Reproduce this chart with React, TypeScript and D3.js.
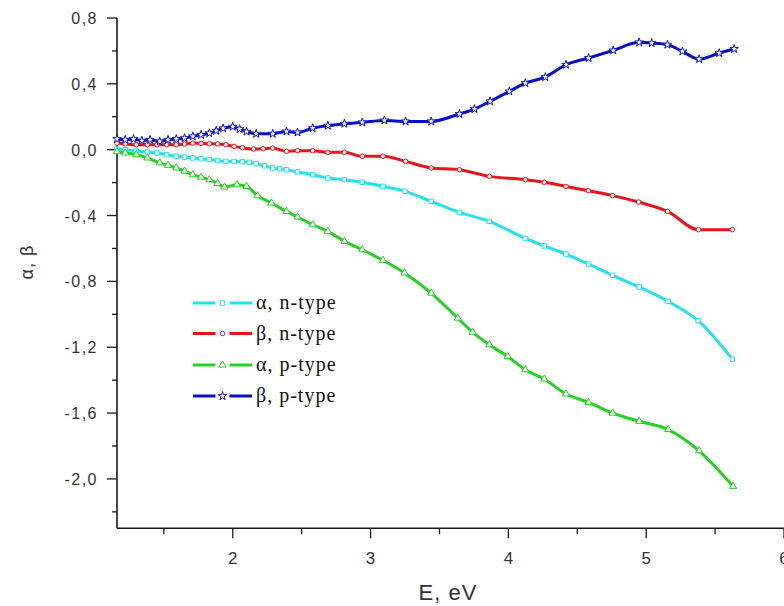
import React from "react";
import * as d3 from "d3";

const W = 784;
const H = 606;

// [E (eV), value]
const alphaN: [number, number][] = [
  [1.16, 0.004], [1.22, 0.0], [1.3, -0.008], [1.38, -0.014], [1.45, -0.02], [1.52, -0.03],
  [1.59, -0.04], [1.65, -0.045], [1.71, -0.05], [1.77, -0.055], [1.83, -0.06], [1.89, -0.066],
  [1.95, -0.071], [2.01, -0.072], [2.07, -0.073], [2.12, -0.077], [2.17, -0.085], [2.23, -0.098],
  [2.29, -0.111], [2.34, -0.116], [2.39, -0.122], [2.47, -0.135], [2.58, -0.152], [2.69, -0.172],
  [2.81, -0.182], [2.94, -0.198], [3.09, -0.223], [3.25, -0.253], [3.44, -0.314], [3.645, -0.381],
  [3.862, -0.435], [4.123, -0.539], [4.26, -0.585], [4.418, -0.634], [4.582, -0.695], [4.756, -0.763],
  [4.949, -0.834], [5.159, -0.921], [5.377, -1.039], [5.625, -1.272],
];

const betaN: [number, number][] = [
  [1.16, 0.04], [1.22, 0.035], [1.3, 0.03], [1.38, 0.03], [1.45, 0.03], [1.52, 0.03],
  [1.59, 0.03], [1.65, 0.035], [1.71, 0.04], [1.77, 0.038], [1.83, 0.036], [1.89, 0.035],
  [1.95, 0.03], [2.01, 0.02], [2.07, 0.012], [2.15, 0.004], [2.22, 0.006], [2.29, 0.01],
  [2.39, -0.01], [2.47, -0.006], [2.58, -0.006], [2.69, -0.016], [2.81, -0.016], [2.94, -0.04],
  [3.09, -0.04], [3.254, -0.071], [3.44, -0.111], [3.645, -0.122], [3.862, -0.162], [4.123, -0.182],
  [4.26, -0.198], [4.418, -0.223], [4.58, -0.249], [4.756, -0.279], [4.945, -0.318], [5.155, -0.375],
  [5.38, -0.486], [5.625, -0.486],
];

const alphaP: [number, number][] = [
  [1.16, -0.012], [1.22, -0.02], [1.3, -0.03], [1.38, -0.05], [1.47, -0.08], [1.53, -0.095],
  [1.59, -0.111], [1.65, -0.13], [1.71, -0.152], [1.77, -0.167], [1.83, -0.182], [1.89, -0.205],
  [1.94, -0.227], [2.03, -0.213], [2.1, -0.223], [2.18, -0.28], [2.28, -0.324], [2.39, -0.375],
  [2.47, -0.409], [2.58, -0.456], [2.69, -0.496], [2.81, -0.557], [2.94, -0.608], [3.09, -0.672],
  [3.246, -0.749], [3.44, -0.871], [3.633, -1.023], [3.74, -1.108], [3.862, -1.185], [3.995, -1.256],
  [4.123, -1.337], [4.26, -1.393], [4.418, -1.484], [4.582, -1.535], [4.756, -1.6], [4.949, -1.65],
  [5.159, -1.7], [5.384, -1.829], [5.63, -2.045],
];

const betaP: [number, number][] = [
  [1.16, 0.065], [1.22, 0.06], [1.28, 0.065], [1.34, 0.055], [1.4, 0.06], [1.47, 0.05],
  [1.53, 0.06], [1.59, 0.065], [1.65, 0.07], [1.71, 0.081], [1.77, 0.09], [1.83, 0.1],
  [1.88, 0.115], [1.93, 0.13], [2.0, 0.14], [2.05, 0.125], [2.1, 0.11], [2.17, 0.097],
  [2.29, 0.097], [2.39, 0.111], [2.47, 0.105], [2.58, 0.131], [2.69, 0.146], [2.81, 0.158],
  [2.94, 0.166], [3.1, 0.178], [3.254, 0.172], [3.44, 0.172], [3.645, 0.217], [3.754, 0.247],
  [3.867, 0.294], [4.007, 0.354], [4.123, 0.405], [4.268, 0.441], [4.418, 0.516], [4.582, 0.557],
  [4.761, 0.603], [4.949, 0.652], [5.04, 0.648], [5.154, 0.638], [5.263, 0.597], [5.384, 0.55],
  [5.53, 0.587], [5.638, 0.612],
];

const seriesNames = ["α, n-type", "β, n-type", "α, p-type", "β, p-type"];
const seriesColors = ["#22e2f0", "#e8141c", "#20d420", "#0a10c8"];
const seriesSymbols = [d3.symbolSquare, d3.symbolCircle, d3.symbolTriangle, d3.symbolStar];
const seriesSymbolSizes = [20, 16, 22, 22];
const seriesData = [alphaN, betaN, alphaP, betaP];

const xMajorTicks = [2, 3, 4, 5, 6];
const xMinorTicks = [1.5, 2.5, 3.5, 4.5, 5.5];
const yMajorTicks = [0.8, 0.4, 0.0, -0.4, -0.8, -1.2, -1.6, -2.0];
const yMinorTicks = [0.6, 0.2, -0.2, -0.6, -1.0, -1.4, -1.8, -2.2];

const fmt = (v: number) => d3.format(".1f")(v).replace(".", ",").replace("−", "-");

export default function App() {
  const x = d3.scaleLinear().domain([1.16, 6]).range([117, 784]);
  const y = d3.scaleLinear().domain([-2.3, 0.8]).range([528.3, 18]);
  const line = d3
    .line<[number, number]>()
    .x((d) => x(d[0]))
    .y((d) => y(d[1]))
    .curve(d3.curveMonotoneX);

  const axisColor = "#1a1a1a";
  const labelColor = "#333";
  const y0 = y(-2.3);
  const x0 = x(1.16);

  const legendX1 = 193;
  const legendX2 = 252;
  const legendRows = [303, 333.5, 365, 396];

  return (
    <div style={{ position: "absolute", left: 0, top: 0 }}>
      <svg width={W} height={H} style={{ display: "block", background: "#fff" }}>
        {/* axes */}
        <line x1={x0} x2={x0} y1={y(0.8)} y2={y0} stroke={axisColor} strokeWidth={1.6} />
        <line x1={x0} x2={784} y1={y0} y2={y0} stroke={axisColor} strokeWidth={1.6} />
        {yMajorTicks.map((t) => (
          <g key={"ym" + t}>
            <line x1={x0 - 10} x2={x0} y1={y(t)} y2={y(t)} stroke={axisColor} strokeWidth={1.3} />
            <text
              x={98}
              y={y(t) + 6}
              textAnchor="end"
              fontFamily="Liberation Sans, Arial, sans-serif"
              fontSize={16}
              letterSpacing={1.5}
              fill={labelColor}
            >
              {fmt(t)}
            </text>
          </g>
        ))}
        {yMinorTicks.map((t) => (
          <line key={"yn" + t} x1={x0 - 5} x2={x0} y1={y(t)} y2={y(t)} stroke={axisColor} strokeWidth={1.3} />
        ))}
        {xMajorTicks.map((t) => (
          <g key={"xm" + t}>
            <line x1={x(t)} x2={x(t)} y1={y0} y2={y0 + 10} stroke={axisColor} strokeWidth={1.3} />
            <text
              x={x(t)}
              y={564}
              textAnchor="middle"
              fontFamily="Liberation Sans, Arial, sans-serif"
              fontSize={17}
              fill={labelColor}
            >
              {t}
            </text>
          </g>
        ))}
        {xMinorTicks.map((t) => (
          <line key={"xn" + t} x1={x(t)} x2={x(t)} y1={y0} y2={y0 + 6} stroke={axisColor} strokeWidth={1.3} />
        ))}
        <text
          x={448}
          y={600}
          textAnchor="middle"
          fontFamily="Liberation Sans, Arial, sans-serif"
          fontSize={22}
          letterSpacing={1}
          fill={labelColor}
        >
          E, eV
        </text>
        <text
          transform="translate(33,262) rotate(-90)"
          textAnchor="middle"
          fontFamily="Liberation Sans, Arial, sans-serif"
          fontSize={18}
          letterSpacing={1}
          fill={labelColor}
        >
          α, β
        </text>

        {/* legend */}
        {seriesNames.map((name, i) => {
          const cy = legendRows[i];
          const cx = (legendX1 + legendX2) / 2;
          const sym = d3.symbol().type(seriesSymbols[i]).size(seriesSymbolSizes[i])();
          return (
            <g key={"lg" + i}>
              <line x1={legendX1} x2={cx - 7} y1={cy} y2={cy} stroke={seriesColors[i]} strokeWidth={3} />
              <line x1={cx + 7} x2={legendX2} y1={cy} y2={cy} stroke={seriesColors[i]} strokeWidth={3} />
              <path d={sym || ""} transform={`translate(${cx},${cy})`} fill="#fff" stroke={seriesColors[i]} strokeWidth={1} />
              <text
                x={256}
                y={cy + 6}
                fontFamily="Liberation Serif, Times New Roman, serif"
                fontSize={20}
                letterSpacing={1}
                fill="#111"
              >
                {name}
              </text>
            </g>
          );
        })}

        {/* series */}
        {seriesData.map((data, i) => (
          <g key={"s" + i}>
            <path d={line(data) || ""} fill="none" stroke={seriesColors[i]} strokeWidth={3} strokeLinejoin="round" />
            {data.map((d, j) => (
              <path
                key={j}
                d={d3.symbol().type(seriesSymbols[i]).size(seriesSymbolSizes[i])() || ""}
                transform={`translate(${x(d[0])},${y(d[1])})`}
                fill="#fff"
                stroke={seriesColors[i]}
                strokeWidth={1}
              />
            ))}
          </g>
        ))}
      </svg>
    </div>
  );
}
